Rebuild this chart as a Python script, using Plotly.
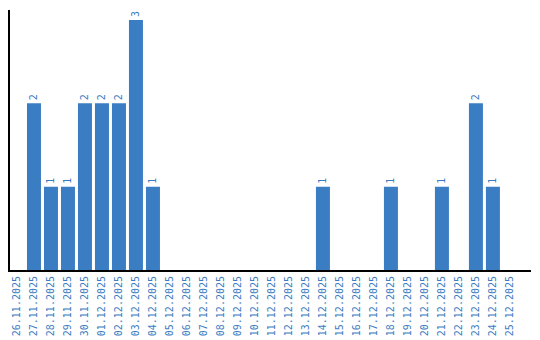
import plotly.graph_objects as go

dates = ["26.11.2025","27.11.2025","28.11.2025","29.11.2025","30.11.2025","01.12.2025","02.12.2025",
         "03.12.2025","04.12.2025","05.12.2025","06.12.2025","07.12.2025","08.12.2025","09.12.2025",
         "10.12.2025","11.12.2025","12.12.2025","13.12.2025","14.12.2025","15.12.2025","16.12.2025",
         "17.12.2025","18.12.2025","19.12.2025","20.12.2025","21.12.2025","22.12.2025","23.12.2025",
         "24.12.2025","25.12.2025"]
counts = [0,2,1,1,2,2,2,3,1,0,0,0,0,0,0,0,0,0,1,0,0,0,1,0,0,1,0,2,1,0]

blue = "#3b7dc2"
labels = [str(v) if v > 0 else "" for v in counts]

fig = go.Figure(go.Bar(
    x=dates, y=counts, marker_color=blue, marker_line_width=0,
    text=labels, textposition="outside", textangle=-90,
    textfont=dict(family="DejaVu Sans Mono", size=10, color=blue),
    cliponaxis=False, width=14/17,
))
fig.update_layout(
    width=540, height=340, margin=dict(l=10, r=9, t=10, b=70),
    paper_bgcolor="white", plot_bgcolor="white",
    showlegend=False,
)
fig.update_xaxes(type="category", range=[-0.41, 30.24], automargin=False,
                 showline=True, linecolor="black", linewidth=2,
                 showgrid=False, ticks="", tickangle=-90,
                 tickfont=dict(family="DejaVu Sans Mono", size=10, color=blue))
fig.update_yaxes(range=[0, 3.12], automargin=False, showline=True, linecolor="black", linewidth=2,
                 showgrid=False, zeroline=False, showticklabels=False, ticks="")
fig.write_html("out.html")
